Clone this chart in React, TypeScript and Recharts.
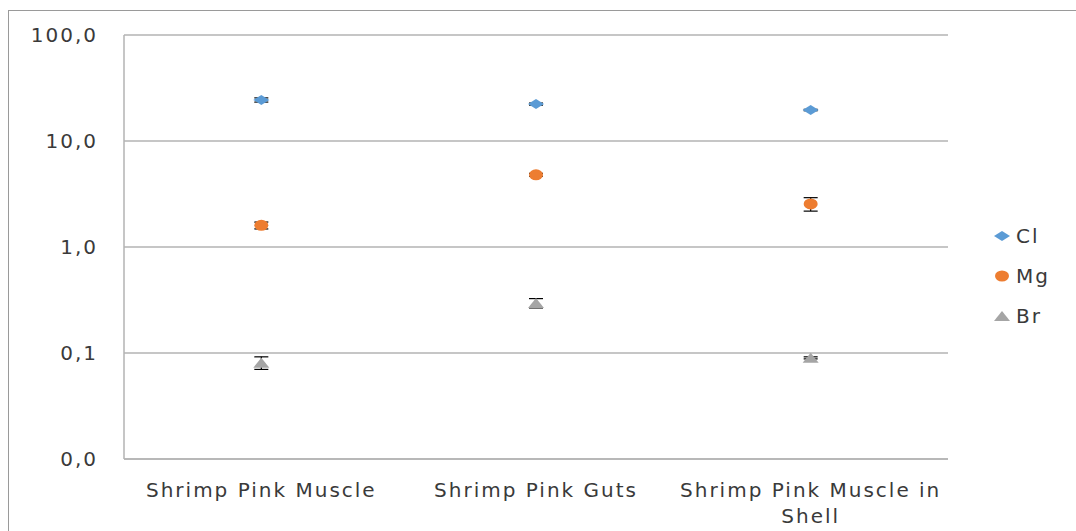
import React from "react";
import {
    ScatterChart,
    Scatter,
    XAxis,
    YAxis,
    CartesianGrid,
    ErrorBar,
    Legend,
} from "recharts";

// sample categories
const categories = [
    "Shrimp Pink Muscle",
    "Shrimp Pink Guts",
    "Shrimp Pink Muscle in Shell",
];

// values
const clValues = [24.4, 22.3, 19.6];
const clErrors = [1.1, 0.5, 0.3];
const mgValues = [1.6, 4.8, 2.55];
const mgErrors = [0.12, 0.15, 0.37];
const brValues = [0.081, 0.296, 0.09];
const brErrors = [0.011, 0.03, 0.002];

const yTicks = [0.01, 0.1, 1, 10, 100];

const seriesNames = ["Cl", "Mg", "Br"];
const seriesColors = ["#5B9BD5", "#ED7D31", "#A5A5A5"];

const FONT = "'DejaVu Sans', sans-serif";
const TEXT_COLOR = "#3a3a3a";
const GRID_COLOR = "#b3b3b3";

const toRows = (values: number[], errors: number[]) =>
    categories.map((category, i) => ({
        category,
        value: values[i],
        err: errors[i],
    }));

const clData = toRows(clValues, clErrors);
const mgData = toRows(mgValues, mgErrors);
const brData = toRows(brValues, brErrors);

const formatTick = (v: number) => v.toFixed(1).replace(".", ",");

const wrapWords = (text: string, maxChars: number) => {
    const words = text.split(" ");
    const lines: string[] = [];
    let current = "";
    words.forEach((w) => {
        const next = current ? `${current} ${w}` : w;
        if (next.length > maxChars && current) {
            lines.push(current);
            current = w;
        } else {
            current = next;
        }
    });
    if (current) lines.push(current);
    return lines;
};

const CategoryTick = (props: any) => {
    const { x, y, payload } = props;
    const lines = wrapWords(String(payload.value), 22);
    return (
        <text
            x={x}
            y={y + 30}
            textAnchor="middle"
            fill={TEXT_COLOR}
            fontSize={20}
            fontFamily={FONT}
            letterSpacing={2}
        >
            {lines.map((line, i) => (
                <tspan key={i} x={x} dy={i === 0 ? 0 : 26}>
                    {line}
                </tspan>
            ))}
        </text>
    );
};

const Marker = ({ kind, cx, cy, fill }: { kind: string; cx: number; cy: number; fill: string }) => {
    if (kind === "Cl") {
        return (
            <polygon
                points={`${cx - 8},${cy} ${cx},${cy - 5} ${cx + 8},${cy} ${cx},${cy + 5}`}
                fill={fill}
            />
        );
    }
    if (kind === "Mg") {
        return <ellipse cx={cx} cy={cy} rx={7} ry={5.5} fill={fill} />;
    }
    return (
        <polygon
            points={`${cx - 8},${cy + 5} ${cx},${cy - 5} ${cx + 8},${cy + 5}`}
            fill={fill}
        />
    );
};

const makeShape = (kind: string, fill: string) => (props: any) =>
    <Marker kind={kind} cx={props.cx} cy={props.cy} fill={fill} />;

const LegendContent = () => (
    <div style={{ fontFamily: FONT, fontSize: 20, color: TEXT_COLOR, letterSpacing: 2 }}>
        {seriesNames.map((name, i) => (
            <div
                key={name}
                style={{ display: "flex", alignItems: "center", height: 40 }}
            >
                <svg width={18} height={14} style={{ marginRight: 5 }}>
                    <Marker kind={name} cx={9} cy={7} fill={seriesColors[i]} />
                </svg>
                <span>{name}</span>
            </div>
        ))}
    </div>
);

const App = () => {
    return (
        <div
            style={{
                position: "absolute",
                left: 0,
                top: 0,
                width: 1076,
                height: 531,
                overflow: "hidden",
                background: "#fff",
            }}
        >
            <div
                style={{
                    position: "absolute",
                    left: 8,
                    top: 10,
                    width: 1200,
                    height: 700,
                    border: "1.5px solid #9a9a9a",
                }}
            />
            <div style={{ position: "absolute", left: 0, top: 0 }}>
                <ScatterChart
                    width={1076}
                    height={531}
                    margin={{ top: 35, right: 48, left: 24, bottom: 12 }}
                >
                    <CartesianGrid
                        vertical={false}
                        stroke={GRID_COLOR}
                        strokeWidth={1.5}
                    />
                    <XAxis
                        dataKey="category"
                        type="category"
                        allowDuplicatedCategory={false}
                        interval={0}
                        height={60}
                        axisLine={{ stroke: GRID_COLOR, strokeWidth: 1.5 }}
                        tickLine={false}
                        tick={<CategoryTick />}
                    />
                    <YAxis
                        dataKey="value"
                        type="number"
                        scale="log"
                        domain={[0.01, 100]}
                        ticks={yTicks}
                        allowDataOverflow
                        width={100}
                        axisLine={{ stroke: GRID_COLOR, strokeWidth: 1.5 }}
                        tickLine={false}
                        tickSize={0}
                        tickMargin={26}
                        tickFormatter={formatTick}
                        tick={{
                            fill: TEXT_COLOR,
                            fontSize: 20,
                            fontFamily: FONT,
                            letterSpacing: 2,
                        }}
                    />
                    <Legend
                        layout="horizontal"
                        align="right"
                        verticalAlign="middle"
                        content={<LegendContent />}
                        wrapperStyle={{ left: 993, top: 216, width: 80 }}
                    />
                    <Scatter
                        name="Cl"
                        data={clData}
                        fill={seriesColors[0]}
                        shape={makeShape("Cl", seriesColors[0])}
                        isAnimationActive={false}
                    >
                        <ErrorBar dataKey="err" direction="y" width={7} stroke="#000" strokeWidth={1.2} />
                    </Scatter>
                    <Scatter
                        name="Mg"
                        data={mgData}
                        fill={seriesColors[1]}
                        shape={makeShape("Mg", seriesColors[1])}
                        isAnimationActive={false}
                    >
                        <ErrorBar dataKey="err" direction="y" width={7} stroke="#000" strokeWidth={1.2} />
                    </Scatter>
                    <Scatter
                        name="Br"
                        data={brData}
                        fill={seriesColors[2]}
                        shape={makeShape("Br", seriesColors[2])}
                        isAnimationActive={false}
                    >
                        <ErrorBar dataKey="err" direction="y" width={7} stroke="#000" strokeWidth={1.2} />
                    </Scatter>
                </ScatterChart>
            </div>
        </div>
    );
};

export default App;
